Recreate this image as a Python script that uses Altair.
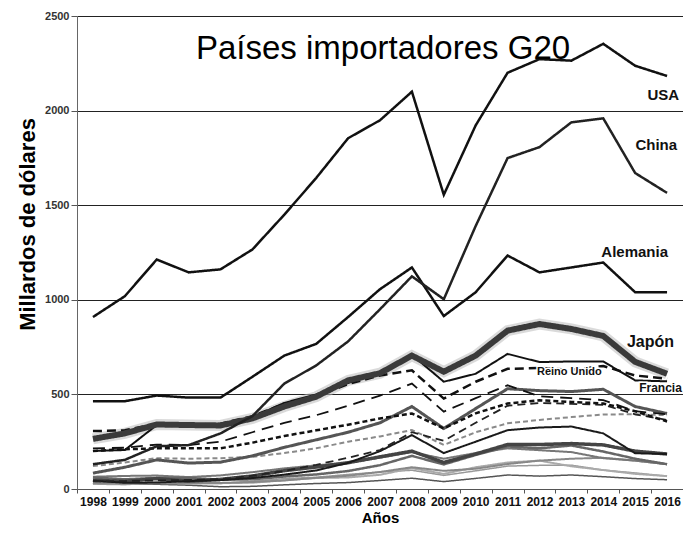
import altair as alt
import pandas as pd

years = [str(y) for y in range(1998, 2017)]

usa = [909, 1019, 1213, 1145, 1161, 1266, 1450, 1644, 1854, 1949, 2100, 1555, 1922, 2200, 2272, 2264, 2353, 2237, 2183]
china = [131, 154, 226, 232, 294, 385, 557, 653, 780, 950, 1124, 1003, 1390, 1749, 1807, 1938, 1959, 1670, 1565]
alemania = [464, 464, 494, 483, 483, 593, 705, 767, 909, 1056, 1171, 914, 1040, 1234, 1145, 1171, 1197, 1040, 1040]
japon = [265, 294, 341, 338, 336, 373, 436, 488, 574, 612, 705, 620, 705, 837, 872, 846, 809, 672, 609]
francia = [201, 206, 338, 335, 340, 380, 455, 500, 560, 615, 709, 567, 609, 714, 671, 674, 674, 574, 569]
reino_unido = [306, 310, 345, 330, 345, 385, 450, 490, 555, 600, 627, 478, 567, 635, 640, 630, 650, 600, 583]
italia = [215, 218, 235, 232, 250, 300, 350, 390, 440, 494, 557, 409, 480, 548, 490, 480, 470, 411, 395]
canada = [201, 210, 215, 215, 215, 245, 280, 310, 340, 373, 399, 320, 400, 452, 469, 460, 452, 411, 357]
india = [40, 42, 45, 48, 52, 70, 95, 128, 165, 206, 300, 255, 350, 440, 455, 450, 445, 395, 365]
mexico = [121, 140, 163, 160, 163, 170, 190, 215, 250, 278, 312, 233, 300, 347, 365, 380, 394, 395, 390]
corea = [84, 115, 154, 137, 142, 175, 220, 260, 300, 350, 436, 320, 425, 530, 520, 515, 527, 436, 399]
rusia = [44, 33, 34, 42, 47, 58, 76, 98, 138, 200, 285, 190, 250, 311, 325, 330, 294, 189, 185]
turquia = [46, 40, 55, 41, 51, 69, 97, 116, 139, 170, 200, 140, 185, 235, 235, 240, 233, 200, 185]
brasil = [61, 51, 59, 58, 50, 51, 66, 77, 95, 126, 175, 130, 180, 225, 215, 230, 198, 160, 131]
australia = [65, 69, 71, 63, 72, 89, 109, 125, 139, 165, 195, 160, 190, 215, 205, 195, 163, 150, 131]
arabia_saudita = [30, 28, 30, 31, 32, 37, 45, 59, 70, 90, 115, 96, 107, 132, 150, 160, 165, 150, 131]
indonesia = [27, 24, 34, 31, 31, 33, 46, 58, 61, 75, 110, 80, 115, 140, 150, 120, 100, 80, 68]
sudafrica = [29, 27, 30, 28, 29, 41, 55, 62, 77, 90, 99, 72, 96, 121, 125, 126, 100, 85, 68]
argentina = [31, 25, 25, 20, 12, 14, 22, 29, 34, 45, 57, 39, 56, 74, 68, 74, 65, 55, 49]

series = {
    "Argentina": argentina,
    "Sudáfrica": sudafrica,
    "Indonesia": indonesia,
    "Arabia Saudita": arabia_saudita,
    "Australia": australia,
    "Brasil": brasil,
    "Turquía": turquia,
    "Rusia": rusia,
    "México": mexico,
    "Corea": corea,
    "India": india,
    "Canadá": canada,
    "Italia": italia,
    "Reino Unido": reino_unido,
    "Francia": francia,
    "Japón": japon,
    "Alemania": alemania,
    "China": china,
    "USA": usa,
}

# style per series: (color, width, dash)
styles = {
    "Argentina": ("#555555", 1.5, [1, 0]),
    "Sudáfrica": ("#999999", 1.5, [1, 0]),
    "Indonesia": ("#aaaaaa", 2, [1, 0]),
    "Arabia Saudita": ("#888888", 2, [1, 0]),
    "Australia": ("#777777", 2, [1, 0]),
    "Brasil": ("#666666", 2.5, [1, 0]),
    "Turquía": ("#444444", 3.5, [1, 0]),
    "Rusia": ("#1a1a1a", 2, [1, 0]),
    "México": ("#8a8a8a", 2, [5, 3]),
    "Corea": ("#555555", 3, [1, 0]),
    "India": ("#222222", 1.8, [8, 5]),
    "Canadá": ("#111111", 2.5, [5, 3]),
    "Italia": ("#111111", 1.8, [12, 7]),
    "Reino Unido": ("#111111", 2.5, [9, 5]),
    "Francia": ("#111111", 2, [1, 0]),
    "Japón": ("#3a3a3a", 6, [1, 0]),
    "Alemania": ("#111111", 2.5, [1, 0]),
    "China": ("#222222", 2.5, [1, 0]),
    "USA": ("#111111", 2.5, [1, 0]),
}

rows = []
for name, vals in series.items():
    for yr, v in zip(years, vals):
        rows.append({"pais": name, "anio": yr, "valor": v})
df = pd.DataFrame(rows)

FONT = "Liberation Sans, Arial, sans-serif"

x_enc = alt.X(
    "anio:O",
    scale=alt.Scale(type="band", domain=years, paddingInner=0, paddingOuter=0),
    bandPosition=0.5,
    axis=alt.Axis(
        title="Años",
        labelAngle=0,
        tickBand="extent",
        tickSize=4,
        tickColor="#555555",
        domainColor="#555555",
        labelFont=FONT,
        labelFontWeight="bold",
        labelFontSize=12,
        labelColor="#111111",
        labelPadding=3,
        titleFont=FONT,
        titleFontSize=15,
        titleFontWeight="bold",
        titleColor="#000000",
        titlePadding=3,
        grid=False,
    ),
)
y_enc = alt.Y(
    "valor:Q",
    scale=alt.Scale(domain=[0, 2500], nice=False),
    axis=alt.Axis(
        values=[0, 500, 1000, 1500, 2000, 2500],
        format="d",
        title="Millardos de dólares",
        grid=True,
        gridColor="#222222",
        gridWidth=1,
        domainColor="#666666",
        tickColor="#555555",
        tickSize=6,
        labelFont=FONT,
        labelFontSize=11,
        labelFontWeight="bold",
        labelColor="#333333",
        labelPadding=2,
        titleFont=FONT,
        titleFontSize=22,
        titleFontWeight="bold",
        titleColor="#000000",
        titleAngle=-90,
        titleX=-50,
        titleY=208,
        titleAlign="center",
        titleBaseline="middle",
    ),
)

base = alt.Chart(df).encode(x=x_enc, y=y_enc)

layers = []
# halo under Japan
layers.append(
    base.transform_filter(alt.datum.pais == "Japón").mark_line(
        color="#bbbbbb", strokeWidth=11, opacity=0.55
    )
)
for name in series:
    c, w, d = styles[name]
    layers.append(
        base.transform_filter(alt.datum.pais == name).mark_line(
            color=c, strokeWidth=w, strokeDash=d
        )
    )

title_text = alt.Chart(pd.DataFrame({"t": ["Países importadores G20"]})).mark_text(
    font=FONT, fontSize=33, color="#000000", align="center", baseline="alphabetic"
).encode(text="t:N", x=alt.value(306), y=alt.value(43))
layers.append(title_text)


def label(text, year, value, align, dx, size, halo=False):
    d = pd.DataFrame({"t": [text], "anio": [year], "valor": [value]})
    ch = alt.Chart(d)
    out = []
    if halo:
        out.append(ch.mark_text(
            font=FONT, fontSize=size, fontWeight="bold", align=align, baseline="middle",
            dx=dx, color="white", stroke="white", strokeWidth=3
        ).encode(text="t:N", x=alt.X("anio:O"), y=alt.Y("valor:Q")))
    out.append(ch.mark_text(
        font=FONT, fontSize=size, fontWeight="bold", align=align, baseline="middle",
        dx=dx, color="#111111"
    ).encode(text="t:N", x=alt.X("anio:O"), y=alt.Y("valor:Q")))
    return out


layers += label("USA", "2016", 2084, "right", 12, 15)
layers += label("China", "2016", 1816, "right", 10, 15)
layers += label("Alemania", "2016", 1253, "right", 1, 15)
layers += label("Japón", "2016", 779, "right", 7, 16)
layers += label("Reino Unido", "2013", 616, "center", -2, 11, halo=True)
layers += label("Francia", "2015", 532, "left", 4, 12, halo=True)

chart = alt.layer(*layers).properties(
    width=606,
    height=473,
    padding={"left": 69, "top": 8, "right": 0, "bottom": 36},
    autosize=alt.AutoSizeParams(type="none"),
).configure_view(strokeWidth=0)

chart.save("out.html", embed_options={"renderer": "svg", "actions": False})
